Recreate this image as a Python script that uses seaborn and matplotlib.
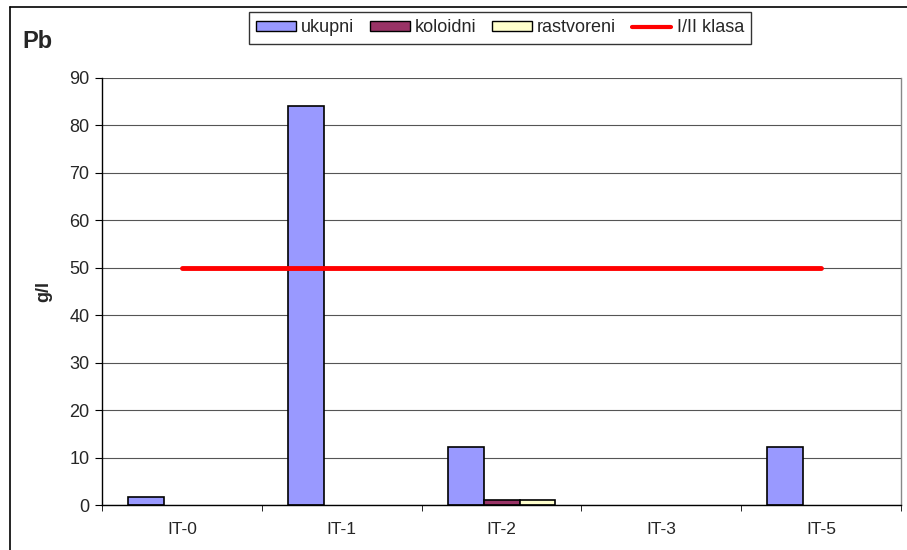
import pandas as pd
import matplotlib.pyplot as plt
import seaborn as sns
from matplotlib.lines import Line2D
from matplotlib.patches import Patch

sites = ['IT-0', 'IT-1', 'IT-2', 'IT-3', 'IT-5']
ukupni = [1.6, 84.2, 12.2, 0, 12.2]
koloidni = [0, 0, 1.0, 0, 0]
rastvoreni = [0, 0, 1.0, 0, 0]
klasa = [50, 50, 50, 50, 50]
series = ['ukupni', 'koloidni', 'rastvoreni']
colors = ['#9999FF', '#993366', '#FFFFCC']

df = pd.DataFrame({'site': sites * 3,
                   'series': ['ukupni'] * 5 + ['koloidni'] * 5 + ['rastvoreni'] * 5,
                   'value': ukupni + koloidni + rastvoreni})

sns.set_style('white')
plt.rcParams['font.family'] = ['Liberation Sans', 'DejaVu Sans']

fig = plt.figure(figsize=(9.07, 5.5), dpi=100)
ax = fig.add_axes([0.1125, 0.0818, 0.8809, 0.7764])

sns.barplot(data=df, x='site', y='value', hue='series', hue_order=series,
            palette=colors, saturation=1, width=0.675, edgecolor='black',
            linewidth=1.2, legend=False, ax=ax)
# hide empty (zero) bars like the original
for p in ax.patches:
    if p.get_height() == 0:
        p.set_visible(False)
ax.plot(range(len(sites)), klasa, color='#FF0000', linewidth=3.5, zorder=5)

ax.set_xlim(-0.5, len(sites) - 0.5)
ax.set_ylim(0, 90)
ax.set_yticks(range(0, 91, 10))
ax.yaxis.grid(True, color='#555555', linewidth=0.8)
ax.set_axisbelow(True)
ax.set_xlabel('')
ax.set_ylabel('g/l', fontsize=13, fontweight='bold', labelpad=12)

ax.set_xticks([i - 0.5 for i in range(len(sites) + 1)], minor=True)
ax.tick_params(axis='x', which='major', length=0, labelsize=12.5, pad=12)
ax.tick_params(axis='x', which='minor', length=4, direction='out', color='black', bottom=True)
ax.tick_params(axis='y', length=5, direction='out', color='black', left=True, labelsize=13, pad=4)

for s in ['left', 'bottom']:
    ax.spines[s].set_color('black')
    ax.spines[s].set_linewidth(1.0)
ax.spines['top'].set_visible(False)
ax.spines['right'].set_color('#888888')
ax.spines['right'].set_linewidth(1.0)

fig.text(22 / 907, 1 - 41 / 550, 'Pb', fontsize=17, fontweight='bold', va='center')

handles = [Patch(facecolor=c, edgecolor='black', linewidth=1.0) for c in colors]
handles.append(Line2D([0], [0], color='#FF0000', linewidth=3))
leg = fig.legend(handles, series + ['I/II klasa'], loc='center',
                 bbox_to_anchor=(500 / 907, 1 - 28 / 550), ncol=4, fontsize=13,
                 frameon=True, fancybox=False, edgecolor='black', handlelength=2.2,
                 handleheight=0.4, handletextpad=0.3, columnspacing=0.85,
                 borderpad=0.4)
leg.get_frame().set_linewidth(1.0)

fig.add_artist(Line2D([10 / 907, 1], [1 - 7 / 550, 1 - 7 / 550], color='black', linewidth=1.2))
fig.add_artist(Line2D([10 / 907, 10 / 907], [0, 1 - 7 / 550], color='black', linewidth=1.2))

plt.savefig('out.png', dpi=100)
